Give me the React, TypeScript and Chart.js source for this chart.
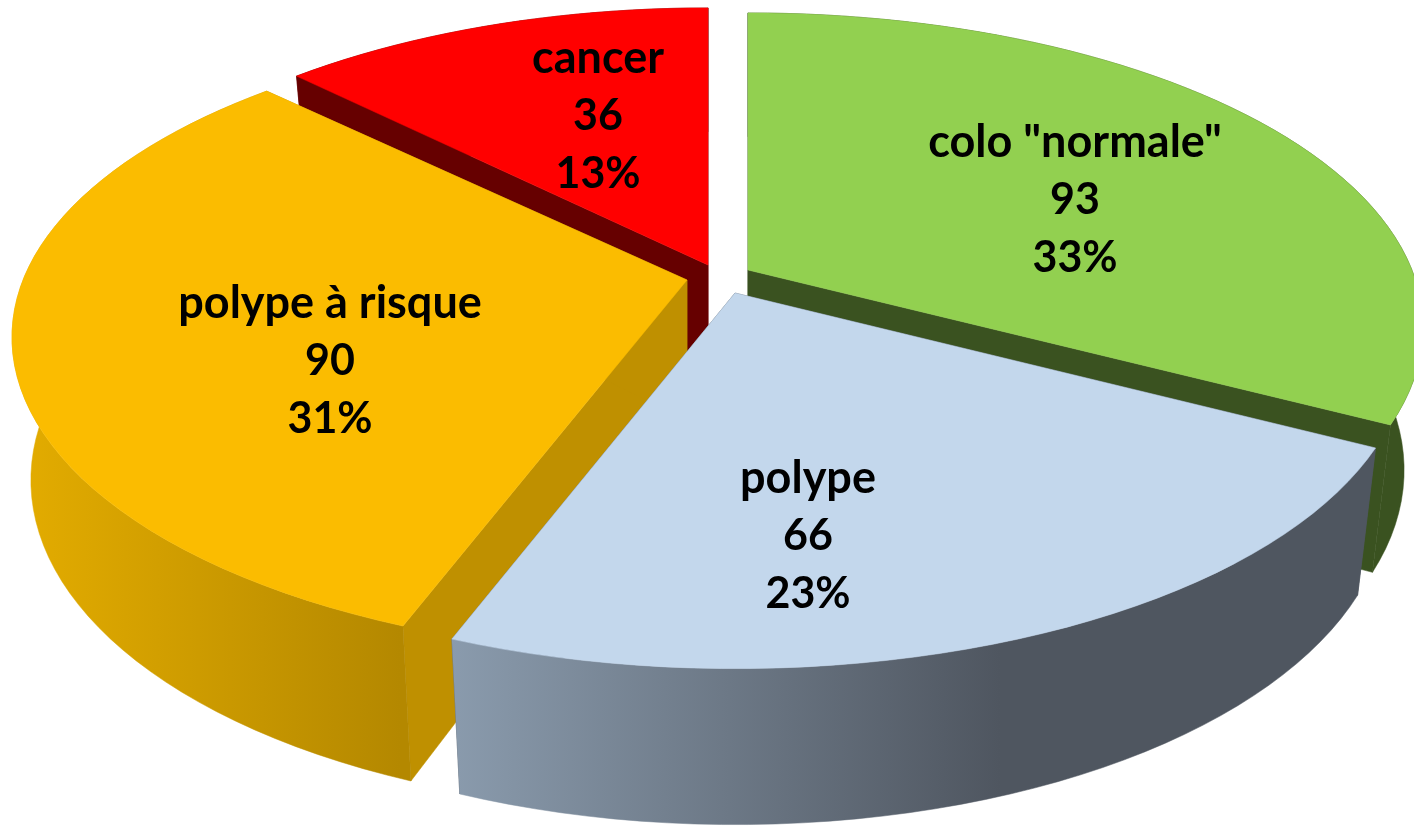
import React, { useEffect, useRef } from "react";
import { Chart, registerables } from "chart.js";

Chart.register(...registerables);

const categories = ['colo "normale"', "polype", "polype à risque", "cancer"];
const counts = [93, 66, 90, 36];
const percentLabels = ["33%", "23%", "31%", "13%"];

const topColors = ["#92D050", "#C3D7EC", "#FBBC00", "#FF0000"];
const wallColors = ["#3A5220", "#4F5660", "#BF9000", "#660000"];
const outerStops: string[][] = [
  ["#3A5220", "#3A5220"],
  ["#8A9BAD", "#4F5660"],
  ["#E3AC00", "#B48800"],
  ["#660000", "#660000"],
];
const outerSpan = [[1300, 1414], [450, 1000], [20, 400], [290, 708]];
const apexes = [[748, 270], [735, 293], [687, 280], [708, 265]];
const radiiX = [664, 662, 664, 650];
const labelCentres = [[1075, 142], [808, 478], [330, 303], [598, 58]];
const drawOrder = [3, 0, 2, 1];

const RY = 308;
const RY_BACK = 0.985;
const PERSP = 0.18;
const SHRINK = 0.972;

function top(i: number, t: number) {
  const s = Math.sin(t);
  const c = -Math.cos(t);
  const w = 1 - PERSP * c;
  const [ax, ay] = apexes[i];
  const ry = c < 0 ? RY * RY_BACK : RY;
  return { x: ax + (radiiX[i] * s) / w, y: ay + (ry * c) / w, c };
}
function bottom(i: number, t: number) {
  const p = top(i, t);
  const ax = apexes[i][0];
  return { x: ax + (p.x - ax) * SHRINK, y: p.y + 140 + 16 * p.c };
}
function arcPoints(fn: (i: number, t: number) => { x: number; y: number }, i: number, a: number, b: number) {
  const n = Math.max(2, Math.ceil(((b - a) * 180) / Math.PI / 2));
  const pts = [];
  for (let k = 0; k <= n; k++) pts.push(fn(i, a + ((b - a) * k) / n));
  return pts;
}
function fillPoly(ctx: CanvasRenderingContext2D, pts: { x: number; y: number }[], fill: string | CanvasGradient) {
  ctx.beginPath();
  pts.forEach((p, k) => (k ? ctx.lineTo(p.x, p.y) : ctx.moveTo(p.x, p.y)));
  ctx.closePath();
  ctx.fillStyle = fill;
  ctx.fill();
  ctx.strokeStyle = fill;
  ctx.lineWidth = 0.5;
  ctx.stroke();
}

const pie3d = {
  id: "pie3d",
  beforeDatasetsDraw(chart: any) {
    const ctx: CanvasRenderingContext2D = chart.ctx;
    const arcs = chart.getDatasetMeta(0).data;
    for (const i of drawOrder) {
      const a = arcs[i].startAngle + Math.PI / 2;
      const b = arcs[i].endAngle + Math.PI / 2;
      const [ax, ay] = apexes[i];
      const base = { x: ax, y: ay + 140 };
      for (const t of [a, b]) {
        fillPoly(ctx, [{ x: ax, y: ay }, top(i, t), bottom(i, t), base], wallColors[i]);
      }
      const g = ctx.createLinearGradient(outerSpan[i][0], 0, outerSpan[i][1], 0);
      g.addColorStop(0, outerStops[i][0]);
      g.addColorStop(1, outerStops[i][1]);
      fillPoly(ctx, [...arcPoints(top, i, a, b), ...arcPoints(bottom, i, a, b).reverse()], g);
      fillPoly(ctx, [{ x: ax, y: ay }, ...arcPoints(top, i, a, b)], topColors[i]);
    }
    return false;
  },
  afterDraw(chart: any) {
    const ctx: CanvasRenderingContext2D = chart.ctx;
    ctx.save();
    ctx.fillStyle = "#000";
    ctx.textAlign = "center";
    ctx.textBaseline = "middle";
    categories.forEach((name, i) => {
      const [x, y] = labelCentres[i];
      ctx.font = 'bold 45px Lato, "Open Sans", sans-serif';
      ctx.fillText(name, x, y);
      ctx.font = 'bold 43px Lato, "Open Sans", sans-serif';
      ctx.fillText(String(counts[i]), x, y + 58);
      ctx.fillText(percentLabels[i], x, y + 116);
    });
    ctx.restore();
  },
};

export default function App() {
  const ref = useRef<HTMLCanvasElement>(null);
  useEffect(() => {
    const chart = new Chart(ref.current!, {
      type: "pie",
      data: { labels: categories, datasets: [{ data: counts, backgroundColor: topColors, borderWidth: 0 }] },
      options: {
        responsive: false,
        animation: false,
        plugins: { legend: { display: false }, tooltip: { enabled: false } },
      },
      plugins: [pie3d],
    });
    return () => chart.destroy();
  }, []);
  return (
    <div style={{ position: "absolute", left: 0, top: 0, width: 1414, height: 826, background: "#fff", overflow: "hidden" }}>
      <canvas ref={ref} width={1414} height={826} style={{ display: "block" }} />
    </div>
  );
}
